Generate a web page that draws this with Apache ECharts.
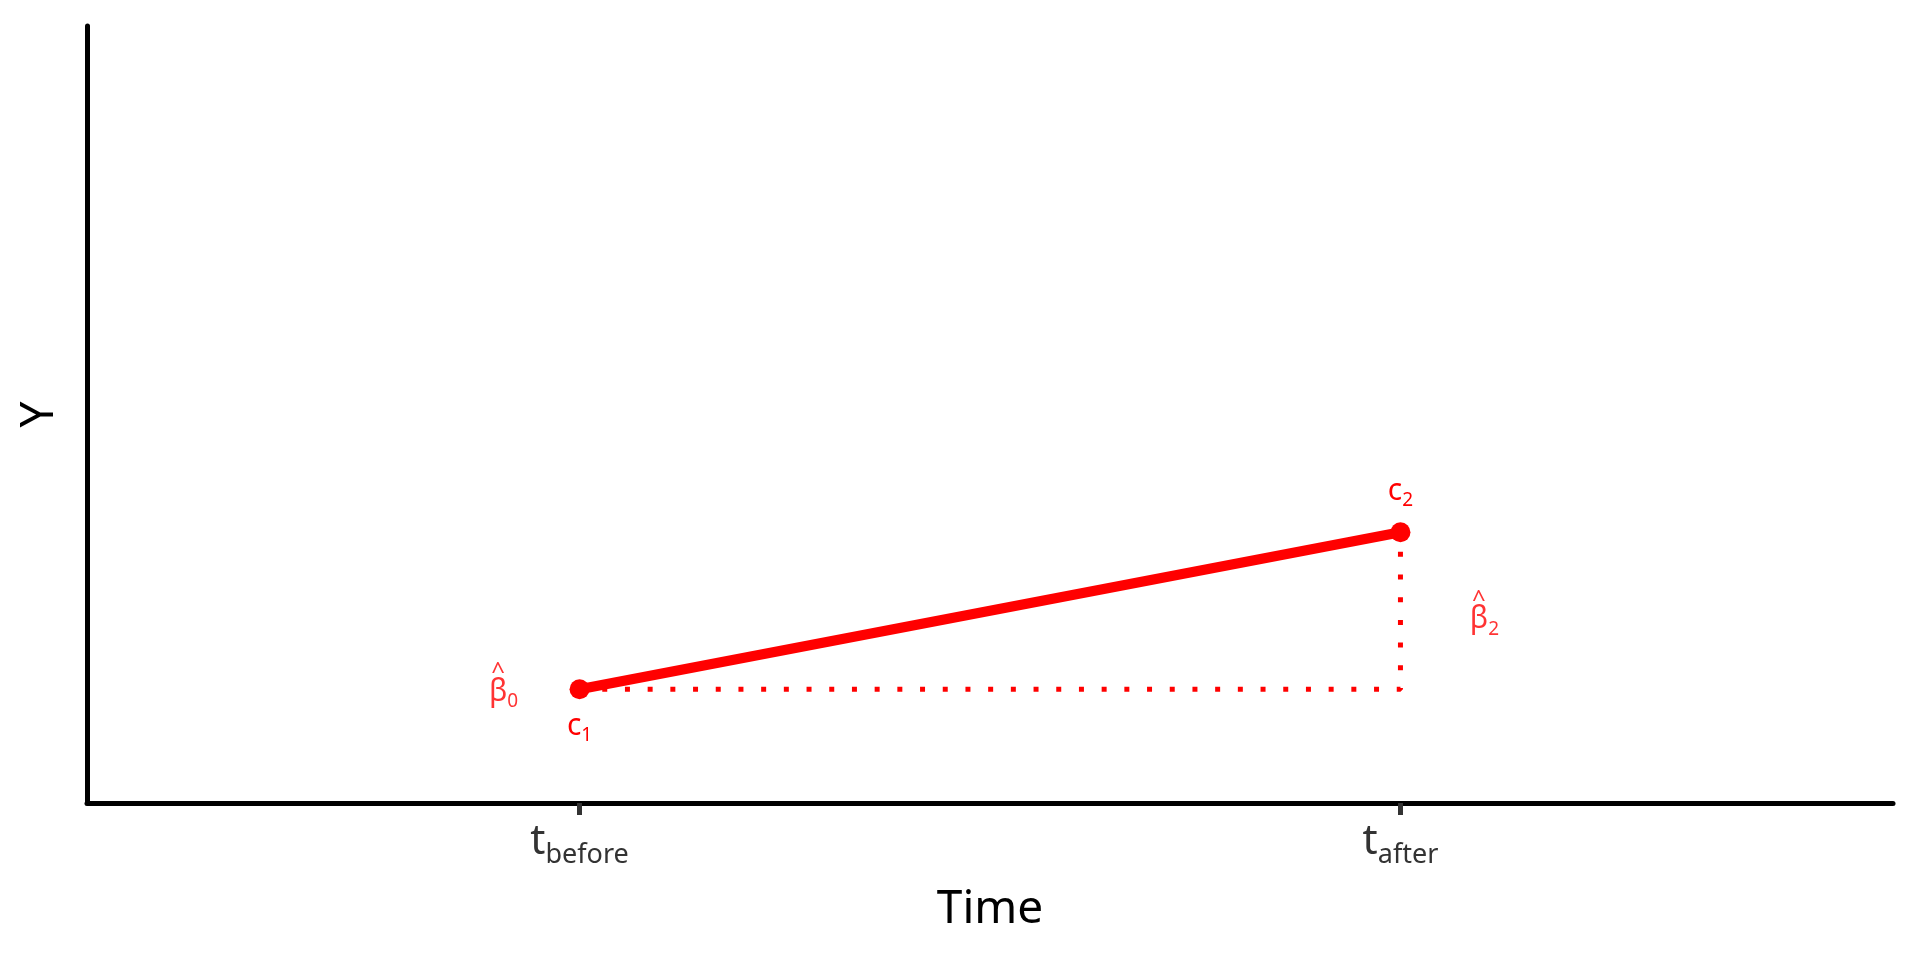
<!DOCTYPE html>
<html>
<head>
<meta charset="utf-8">
<script src="https://cdn.jsdelivr.net/npm/echarts@6/dist/echarts.min.js"></script>
<style>html,body{margin:0;padding:0;background:#fff}#c{width:1920px;height:960px}</style>
</head>
<body>
<div id="c"></div>
<script>
// ---- data ----
const timeValues = [1, 2];              // t_before, t_after
const timeSubscripts = ['before', 'after'];
const cValues = [1, 2];                  // c1, c2 (arbitrary Y units)
const cSubscripts = ['1', '2'];
const betaSubscripts = ['0', '2'];

const RED = '#ff0000';
const FONT = 'Noto Sans';

const chart = echarts.init(document.getElementById('c'), null, {renderer: 'canvas'});

const c1 = [timeValues[0], cValues[0]];
const c2 = [timeValues[1], cValues[1]];
const corner = [timeValues[1], cValues[0]];
const midB2 = [timeValues[1], (cValues[0] + cValues[1]) / 2];

const labelRich = {
  m: {fontSize: 30, fontFamily: FONT, color: RED, padding: [0, 0, 4, 0], verticalAlign: 'bottom', lineHeight: 34},
  s: {fontSize: 19, fontFamily: FONT, color: RED, verticalAlign: 'bottom', lineHeight: 20},
  h: {fontSize: 24, fontFamily: FONT, color: RED, lineHeight: 10, padding: [0, 11, 0, 0], align: 'center'}
};
function betaLabel(sub) {
  return '{h|^}\n{m|β}{s|' + sub + '}';
}

const option = {
  backgroundColor: '#ffffff',
  animation: false,
  grid: {left: 87, right: 27, top: 26, bottom: 157, containLabel: false},
  xAxis: {
    type: 'value', min: 0.4, max: 2.6,
    name: 'Time', nameLocation: 'middle', nameGap: 84,
    nameTextStyle: {fontSize: 46, fontFamily: FONT, color: '#000'},
    axisLine: {show: true, onZero: false, lineStyle: {color: '#000', width: 5}},
    axisTick: {show: true, customValues: timeValues, length: 12, lineStyle: {color: '#333', width: 5}},
    axisLabel: {
      show: true, customValues: timeValues, margin: 20,
      formatter: function (v) {
        const i = timeValues.indexOf(v);
        return '{t|t}{s|' + timeSubscripts[i] + '}';
      },
      rich: {
        t: {fontSize: 42, fontFamily: FONT, color: '#333', padding: [0, 0, 6, 0], verticalAlign: 'bottom', lineHeight: 46},
        s: {fontSize: 27, fontFamily: FONT, color: '#333', verticalAlign: 'bottom', lineHeight: 28}
      }
    },
    splitLine: {show: false}
  },
  yAxis: {
    type: 'value', min: 0.276, max: 5.223,
    name: 'Y', nameLocation: 'middle', nameGap: 24, nameRotate: 90,
    nameTextStyle: {fontSize: 46, fontFamily: FONT, color: '#000'},
    axisLine: {show: true, onZero: false, lineStyle: {color: '#000', width: 5}},
    axisTick: {show: false},
    axisLabel: {show: false},
    splitLine: {show: false}
  },
  series: [
    {
      type: 'line', data: [c1, corner, c2], symbol: 'none', z: 1,
      lineStyle: {color: RED, width: 5, type: [5, 17.7], cap: 'butt'}
    },
    {
      type: 'line', data: [c1, c2], symbol: 'circle', symbolSize: 20, z: 3,
      itemStyle: {color: RED},
      lineStyle: {color: RED, width: 10},
      label: {
        show: true,
        formatter: function (p) { return '{m|c}{s|' + cSubscripts[p.dataIndex] + '}'; },
        rich: labelRich
      },
      emphasis: {disabled: true}
    },
    {
      type: 'scatter', data: [c1], symbolSize: 0, z: 4,
      label: {
        show: true, position: 'left', distance: 76, align: 'center',
        formatter: function () { return betaLabel(betaSubscripts[0]); },
        rich: labelRich
      }
    },
    {
      type: 'scatter', data: [midB2], symbolSize: 0, z: 4,
      label: {
        show: true, position: 'right', distance: 84, align: 'center', offset: [0, 6],
        formatter: function () { return betaLabel(betaSubscripts[1]); },
        rich: labelRich
      }
    }
  ]
};
// c1 label below, c2 label above
option.series[1].data = [
  {value: c1, label: {position: 'bottom', distance: 12}},
  {value: c2, label: {position: 'top', distance: 12}}
];
chart.setOption(option);
</script>
</body>
</html>
